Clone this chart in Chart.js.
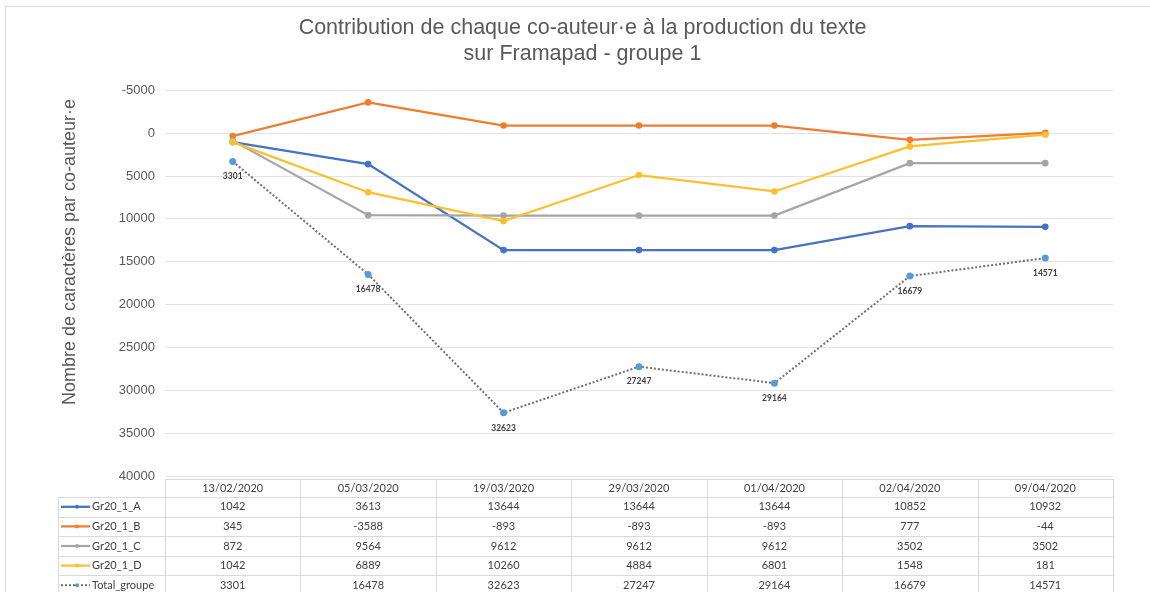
<!DOCTYPE html>
<html>
<head>
<meta charset="utf-8">
<script src="https://cdn.jsdelivr.net/npm/chart.js@4.4.1/dist/chart.umd.min.js"></script>
<style>
  html, body { margin: 0; padding: 0; background: #fff; }
  #wrap { width: 1150px; height: 592px; position: relative; }
</style>
</head>
<body>
<div id="wrap"><canvas id="lineChart"></canvas></div>
<script>
const dates = ['13/02/2020', '05/03/2020', '19/03/2020', '29/03/2020',
    '01/04/2020', '02/04/2020', '09/04/2020'];
const seriesNames = ['Gr20_1_A', 'Gr20_1_B', 'Gr20_1_C', 'Gr20_1_D', 'Total_groupe'];
const gr20A = [1042, 3613, 13644, 13644, 13644, 10852, 10932];
const gr20B = [345, -3588, -893, -893, -893, 777, -44];
const gr20C = [872, 9564, 9612, 9612, 9612, 3502, 3502];
const gr20D = [1042, 6889, 10260, 4884, 6801, 1548, 181];
const totalGroupe = [3301, 16478, 32623, 27247, 29164, 16679, 14571];
const yTitle = 'Nombre de caractères par co-auteur·e';

const tableFont = '11px Lato, "Liberation Sans", sans-serif';

// frame, y title and data table, the table aligned on the x scale
const tablePlugin = {
    id: 'dataTable',
    beforeDraw(chart) {
        const ctx = chart.ctx;
        ctx.save();
        ctx.strokeStyle = '#d9d9d9';
        ctx.lineWidth = 1;
        ctx.strokeRect(5.5, 6.5, 1160, 600);
        // y axis title (Excel puts it a bit above the plot centre)
        ctx.translate(70, 252);
        ctx.rotate(-Math.PI / 2);
        ctx.font = '18px "Liberation Sans", Arial, sans-serif';
        ctx.fillStyle = '#595959';
        ctx.textAlign = 'center';
        ctx.textBaseline = 'middle';
        ctx.fillText(yTitle, 0, 0);
        ctx.restore();
    },
    afterDraw(chart) {
        const ctx = chart.ctx;
        const xs = chart.scales.x;
        const area = chart.chartArea;
        const colW = (area.right - area.left) / dates.length;
        const headTop = 479, headBot = 497, rowH = 19.6;
        const legLeft = 58;
        ctx.save();
        ctx.strokeStyle = '#d9d9d9';
        ctx.lineWidth = 1;
        ctx.beginPath();
        ctx.moveTo(area.left, headTop + 0.5); ctx.lineTo(area.right, headTop + 0.5);
        for (let r = 0; r <= seriesNames.length; r++) {
            const y = Math.round(headBot + r * rowH) + 0.5;
            ctx.moveTo(legLeft, y);
            ctx.lineTo(area.right, y);
        }
        ctx.moveTo(legLeft + 0.5, headBot); ctx.lineTo(legLeft + 0.5, 600);
        for (let c = 0; c <= dates.length; c++) {
            const x = Math.round(area.left + c * colW) + 0.5;
            ctx.moveTo(x, headTop); ctx.lineTo(x, 600);
        }
        ctx.stroke();

        ctx.font = tableFont;
        ctx.fillStyle = '#404040';
        ctx.textAlign = 'center';
        ctx.textBaseline = 'middle';
        dates.forEach((d, i) => {
            ctx.fillText(d, xs.getPixelForValue(i), (headTop + headBot) / 2);
        });
        chart.data.datasets.forEach((ds, r) => {
            const y = headBot + r * rowH + rowH / 2;
            ds.data.forEach((v, i) => {
                ctx.textAlign = 'center';
                ctx.fillText(String(v), xs.getPixelForValue(i), y);
            });
            // legend key
            ctx.save();
            ctx.strokeStyle = ds.borderColor;
            ctx.lineWidth = ds.borderWidth;
            ctx.setLineDash(ds.borderDash || []);
            ctx.beginPath();
            ctx.moveTo(61, y); ctx.lineTo(90, y);
            ctx.stroke();
            ctx.setLineDash([]);
            ctx.fillStyle = ds.pointBackgroundColor;
            ctx.beginPath();
            ctx.arc(77, y, 2, 0, Math.PI * 2);
            ctx.fill();
            ctx.restore();
            ctx.textAlign = 'left';
            ctx.fillText(ds.label, 92, y);
        });
        ctx.restore();
    },
    afterDatasetsDraw(chart) {
        // value labels under the total line
        const ctx = chart.ctx;
        const meta = chart.getDatasetMeta(4);
        ctx.save();
        ctx.font = 'bold 8.5px Lato, "Liberation Sans", sans-serif';
        ctx.fillStyle = '#404040';
        ctx.textAlign = 'center';
        ctx.textBaseline = 'middle';
        meta.data.forEach((pt, i) => {
            ctx.fillText(String(totalGroupe[i]), pt.x, pt.y + 15);
        });
        ctx.restore();
    }
};

function line(label, data, color, order) {
    return {
        label: label,
        data: data,
        borderColor: color,
        backgroundColor: color,
        pointBackgroundColor: color,
        pointBorderColor: color,
        borderWidth: 2.25,
        pointRadius: 2.2,
        pointHoverRadius: 2.2,
        tension: 0,
        order: order
    };
}

document.addEventListener('DOMContentLoaded', function() {
    const totalDs = line(seriesNames[4], totalGroupe, '#6f6f6f', 1);
    totalDs.borderDash = [2, 2];
    totalDs.borderWidth = 2;
    totalDs.pointBackgroundColor = '#5b9bd5';
    totalDs.pointBorderColor = '#5b9bd5';
    totalDs.pointRadius = 2.5;

    const lineChartData = {
        labels: dates,
        datasets: [
            line(seriesNames[0], gr20A, '#4472c4', 5),
            line(seriesNames[1], gr20B, '#ed7d31', 4),
            line(seriesNames[2], gr20C, '#a5a5a5', 3),
            line(seriesNames[3], gr20D, '#fdbf2d', 2),
            totalDs
        ]
    };

    const lineChartOptions = {
        responsive: true,
        maintainAspectRatio: false,
        animation: false,
        layout: {
            padding: { left: 52, right: 37, top: 8, bottom: 116 }
        },
        plugins: {
            legend: false,
            tooltip: { enabled: false },
            title: {
                display: true,
                text: ['Contribution de chaque co-auteur·e à la production du texte',
                    'sur Framapad - groupe 1'],
                color: '#595959',
                font: { family: '"Liberation Sans", Arial, sans-serif', size: 21.5, weight: 'normal', lineHeight: 1.17 },
                padding: { top: 8, bottom: 24 }
            }
        },
        scales: {
            x: {
                type: 'category',
                offset: true,
                display: false
            },
            y: {
                reverse: true,
                min: -5000,
                max: 40000,
                ticks: {
                    stepSize: 5000,
                    color: '#595959',
                    padding: 10,
                    font: { family: '"Liberation Sans", Arial, sans-serif', size: 13 },
                    callback: (v) => String(v)
                },
                grid: {
                    color: '#e3e3e3',
                    lineWidth: 1,
                    drawTicks: false
                },
                border: { display: false },
                afterFit(scale) { scale.width = 113; }
            }
        }
    };

    new Chart(document.getElementById('lineChart').getContext('2d'), {
        type: 'line',
        data: lineChartData,
        options: lineChartOptions,
        plugins: [tablePlugin]
    });
});
</script>
</body>
</html>
